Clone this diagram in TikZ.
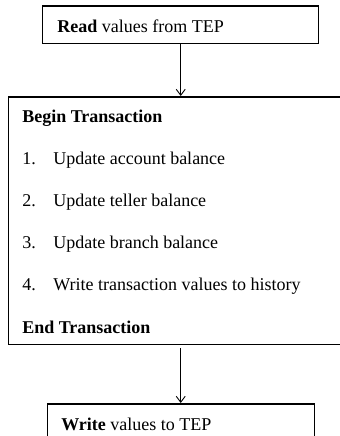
\documentclass[tikz,border=0pt]{standalone}
\usepackage{fontspec}
\setmainfont{Liberation Serif}
\usetikzlibrary{arrows.meta}

\tikzset{
  box/.style={draw,line width=1pt,rectangle,inner sep=0pt,anchor=north west},
  txt/.style={anchor=base west,inner sep=0pt,font=\fontsize{12}{14}\selectfont},
  arr/.style={line width=0.6pt,-{Straight Barb[length=4pt,width=6pt]}}
}

\begin{document}
\begin{tikzpicture}[x=0.6667pt,y=-0.6667pt]

          \useasboundingbox (0,0) rectangle (340,436);
          \clip (0,0) rectangle (340,436);

          % top box
          \node[box,minimum width=184pt,minimum height=25.3pt] (read) at (42,5) {};
          \node[txt] (readtxt) at (57,32) {\textbf{Read} values from TEP};

          % transaction box, right edge runs off the page
          \node[box,minimum width=225pt,minimum height=165.3pt] (trans) at (8,96) {};
          \node[txt] (begin) at (22,122) {\textbf{Begin Transaction}};
          \foreach \n/\t in {1/Update account balance,2/Update teller balance,
                             3/Update branch balance,4/Write transaction values to history}
          {
            \node[txt] (num\n) at (22,122+42*\n) {\n.};
            \node[txt] (item\n) at (53,122+42*\n) {\t};
          }
          \node[txt] (end) at (22,333) {\textbf{End Transaction}};

          % bottom box, cut at the lower edge
          \node[box,minimum width=178pt,minimum height=25pt] (write) at (47,403) {};
          \node[txt] (writetxt) at (61,430) {\textbf{Write} values to TEP};

          \draw[arr] (read.south) -- (read.south |- trans.north);
          \draw[arr,shorten <=2pt] (read.south |- trans.south) -- (read.south |- write.north);
        \end{tikzpicture}
\end{document}
